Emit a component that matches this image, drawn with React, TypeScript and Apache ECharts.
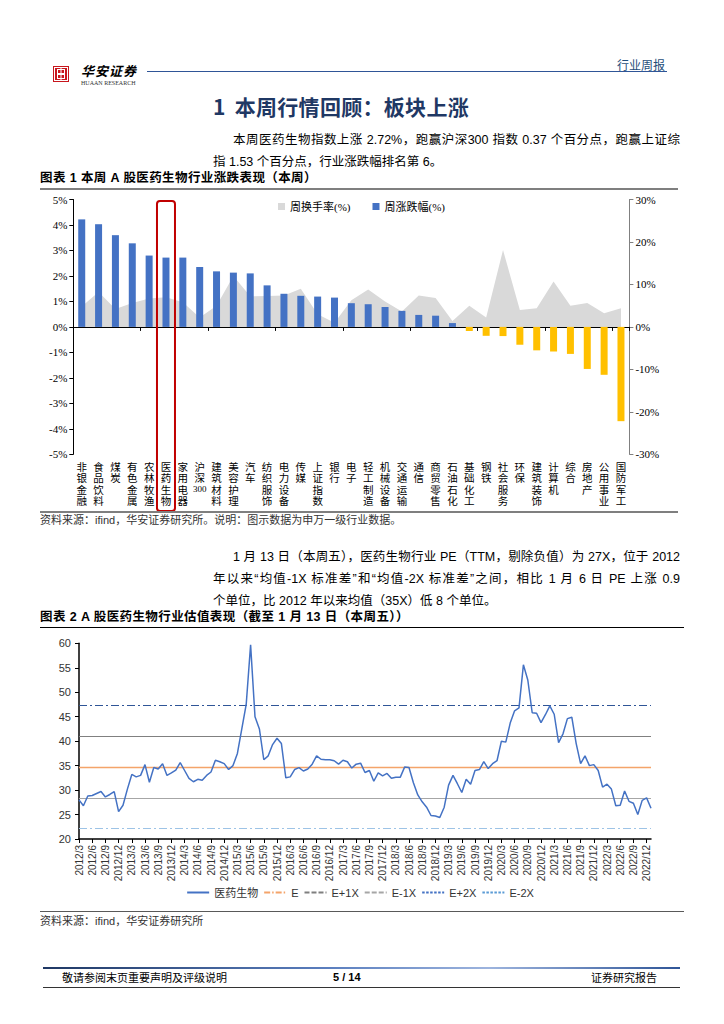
import React, { useEffect, useRef } from 'react';
import * as echarts from 'echarts';

// ---------- Figure 1 data ----------
const industries = ['非银金融', '食品饮料', '煤炭', '有色金属', '农林牧渔', '医药生物', '家用电器', '沪深300', '建筑材料', '美容护理', '汽车', '纺织服饰', '电力设备', '传媒', '上证指数', '银行', '电子', '轻工制造', '机械设备', '交通运输', '通信', '商贸零售', '石油石化', '基础化工', '钢铁', '社会服务', '环保', '建筑装饰', '计算机', '综合', '房地产', '公用事业', '国防军工'];
const weeklyChange = [4.22, 4.03, 3.6, 3.28, 2.8, 2.72, 2.72, 2.35, 2.18, 2.13, 2.1, 1.63, 1.3, 1.22, 1.19, 1.15, 0.93, 0.89, 0.78, 0.63, 0.47, 0.44, 0.15, -0.16, -0.35, -0.36, -0.7, -0.92, -0.97, -1.06, -1.65, -1.88, -3.7];
const weeklyTurnover = [4.8, 8.2, 4.2, 5.6, 6.7, 7.0, 5.8, 2.2, 5.0, 12.0, 7.2, 7.3, 7.4, 9.0, 3.0, 1.0, 6.3, 8.8, 6.0, 3.6, 7.4, 6.8, 1.4, 5.0, 2.2, 18.1, 4.0, 4.4, 10.7, 5.0, 5.6, 3.2, 4.4];
const leftTicks = { min: -5, max: 5, interval: 1 };
const rightTicks = { min: -30, max: 30, interval: 10 };
const highlighted = '医药生物';

// ---------- Figure 2 data ----------
const peStart = { year: 2012, month: 3 };
const peValues = [
  28.0, 26.8, 28.8, 28.9, 29.3, 29.7, 28.6, 29.1, 29.7, 25.6,
  26.9, 30.2, 33.2, 32.7, 33.0, 35.2, 31.6, 34.6, 34.3, 35.4,
  33.0, 33.5, 34.1, 35.6, 34.0, 32.4, 31.7, 32.2, 32.0, 33.0,
  33.7, 36.1, 35.8, 35.4, 34.2, 35.0, 37.5, 42.5, 47.5, 59.7,
  45.0, 42.5, 36.2, 37.0, 39.3, 40.6, 39.5, 32.5, 32.7, 34.2,
  34.6, 33.9, 34.3, 35.3, 37.0, 36.3, 36.2, 36.2, 36.0, 35.3,
  36.1, 35.8, 34.5, 35.3, 35.5, 33.6, 34.0, 31.8, 33.5, 32.9,
  33.4, 32.4, 32.6, 32.6, 34.7, 34.6, 31.5, 29.0, 27.6, 26.5,
  24.8, 24.7, 24.4, 26.5, 31.0, 33.0, 31.3, 29.5, 32.2, 31.2,
  34.0, 34.2, 35.8, 34.4, 35.4, 36.0, 40.0, 39.8, 43.7, 46.2,
  46.8, 55.6, 52.5, 45.8, 45.7, 43.8, 45.4, 47.2, 45.5, 39.7,
  41.5, 44.6, 44.9, 39.5, 35.4, 37.0, 35.0, 35.2, 34.0, 30.6,
  31.2, 30.2, 26.8, 26.9, 29.8, 27.7, 27.3, 25.0, 27.9, 28.4,
  26.3,
];
const bandNames = ['E', 'E+1X', 'E-1X', 'E+2X', 'E-2X'];
const bandValues = [34.7, 41.0, 28.4, 47.3, 22.1];
const peTicks = { min: 20, max: 60, interval: 5 };

const peMonths: string[] = [];
{
  let y = peStart.year;
  let m = peStart.month;
  for (let i = 0; i < peValues.length; i++) {
    peMonths.push(`${y}/${m}`);
    m += 1;
    if (m > 12) { m = 1; y += 1; }
  }
}

const CJK = '"Noto Sans CJK SC", sans-serif';
const SANS = '"Liberation Sans", "Noto Sans CJK SC", sans-serif';
const SERIF = '"Liberation Serif", "Noto Sans CJK SC", serif';

const bandLegendStyles: any[] = [
  { color: '#F4A46A', width: 1.3, type: [6, 2, 1.5, 2] },
  { color: '#7F7F7F', width: 1.3, type: [5, 2] },
  { color: '#A6A6A6', width: 1.3, type: [5, 2] },
  { color: '#4472C4', width: 1.3, type: [2.5, 1.5] },
  { color: '#5B9BD5', width: 1.3, type: [2.5, 1.5] },
];
const bandPlotStyles: any[] = [
  { color: '#F4A46A', width: 1.3, type: 'solid' },
  { color: '#808080', width: 1.2, type: 'solid' },
  { color: '#A6A6A6', width: 1.2, type: 'solid' },
  { color: '#2F5597', width: 1, type: [8, 3, 2, 3] },
  { color: '#9DC3E6', width: 1, type: [8, 3, 2, 3] },
];

function option1(): any {
  return {
    animation: false,
    grid: { left: 33.3, right: 50.6, top: 9.5, bottom: 57.7 },
    legend: {
      left: 238,
      top: 11,
      padding: 0,
      itemWidth: 7,
      itemHeight: 7,
      itemGap: 22,
      textStyle: { fontSize: 11, fontFamily: SERIF, color: '#000' },
      data: [
        { name: '周换手率(%)', icon: 'rect' },
        { name: '周涨跌幅(%)', icon: 'rect' },
      ],
    },
    xAxis: [
      {
        type: 'category',
        data: industries,
        axisLine: { show: false, onZero: false },
        axisTick: { show: false },
        axisLabel: {
          interval: 0,
          margin: 6,
          fontSize: 10.5,
          lineHeight: 11.5,
          fontFamily: CJK,
          color: '#000',
          formatter: (v: string) => {
            const m = v.match(/^(\D+)(\d+)$/);
            if (m) return m[1].split('').join('\n') + '\n{n|' + m[2] + '}';
            return v.split('').join('\n');
          },
          rich: { n: { fontSize: 9, fontFamily: SERIF, lineHeight: 11.5, color: '#000' } },
        },
      },
      {
        type: 'category',
        data: industries,
        position: 'bottom',
        axisLine: { show: true, onZero: true, onZeroAxisIndex: 0, lineStyle: { color: '#000', width: 1 } },
        axisTick: { show: true, length: 4, lineStyle: { color: '#000' } },
        axisLabel: { show: false },
      },
    ],
    yAxis: [
      {
        type: 'value',
        ...leftTicks,
        axisLine: { show: true, lineStyle: { color: '#000', width: 1 } },
        axisTick: { show: true, length: 4, lineStyle: { color: '#000' } },
        splitLine: { show: false },
        axisLabel: { formatter: '{value}%', fontFamily: SERIF, fontSize: 11, color: '#000', margin: 6 },
      },
      {
        type: 'value',
        position: 'right',
        ...rightTicks,
        axisLine: { show: true, lineStyle: { color: '#808080', width: 1 } },
        axisTick: { show: true, length: 4, lineStyle: { color: '#808080' } },
        splitLine: { show: false },
        axisLabel: { formatter: '{value}%', fontFamily: SERIF, fontSize: 11, color: '#000', margin: 6 },
      },
    ],
    series: [
      {
        name: '周换手率(%)',
        type: 'line',
        xAxisIndex: 0,
        yAxisIndex: 1,
        data: weeklyTurnover,
        symbol: 'none',
        lineStyle: { width: 0, color: '#D9D9D9' },
        itemStyle: { color: '#D9D9D9' },
        areaStyle: { color: '#D9D9D9', opacity: 1 },
        z: 1,
      },
      {
        name: '周涨跌幅(%)',
        type: 'bar',
        xAxisIndex: 0,
        yAxisIndex: 0,
        barWidth: 7,
        itemStyle: { color: '#4472C4' },
        data: weeklyChange.map((v) => (v < 0 ? { value: v, itemStyle: { color: '#FFC000' } } : v)),
        z: 2,
      },
    ],
  };
}

function option2(): any {
  const everyQuarter = (i: number) => i % 3 === 0;
  return {
    animation: false,
    grid: { left: 39, right: 29, top: 13.3, bottom: 71 },
    legend: {
      left: 'center',
      top: 257,
      padding: 0,
      itemWidth: 22,
      itemHeight: 8,
      itemGap: 5,
      itemStyle: { opacity: 0 },
      textStyle: { fontSize: 11, fontFamily: SANS, color: '#333' },
      data: ['医药生物', ...bandNames],
    },
    xAxis: {
      type: 'category',
      boundaryGap: false,
      data: peMonths,
      axisLine: { lineStyle: { color: '#000', width: 1.5 } },
      axisTick: { interval: everyQuarter, length: 4, lineStyle: { color: '#000' } },
      axisLabel: { interval: everyQuarter, rotate: 90, fontSize: 10, fontFamily: SANS, color: '#333', margin: 6 },
    },
    yAxis: {
      type: 'value',
      ...peTicks,
      axisLine: { show: true, lineStyle: { color: '#000', width: 1.5 } },
      axisTick: { show: true, length: 4, lineStyle: { color: '#000' } },
      splitLine: { show: false },
      axisLabel: { fontSize: 11, fontFamily: SANS, color: '#333', margin: 8 },
    },
    series: [
      {
        name: '医药生物',
        type: 'line',
        data: peValues,
        symbol: 'none',
        lineStyle: { color: '#4472C4', width: 1.5 },
        itemStyle: { color: '#4472C4' },
        z: 5,
      },
      ...bandNames.map((name, i) => ({
        name,
        type: 'line',
        data: [],
        symbol: 'none',
        lineStyle: bandLegendStyles[i],
        itemStyle: { color: bandLegendStyles[i].color },
        z: 2,
        markLine: {
          silent: true,
          symbol: ['none', 'none'],
          label: { show: false },
          lineStyle: bandPlotStyles[i],
          data: [{ yAxis: bandValues[i] }],
        },
      })),
    ],
  };
}

type TProps = { x: number; y: number; size: number; children: React.ReactNode; style?: React.CSSProperties; w?: number; right?: boolean };
function T({ x, y, size, children, style, w, right }: TProps) {
  const base: React.CSSProperties = {
    position: 'absolute',
    top: y - size * 0.6,
    fontSize: size,
    lineHeight: `${size * 1.2}px`,
    whiteSpace: 'nowrap',
    fontFamily: SANS,
    color: '#000',
  };
  if (right) base.right = 724 - x; else base.left = x;
  if (w) {
    base.width = w;
    base.textAlign = 'justify';
    (base as any).textAlignLast = 'justify';
  }
  return <div style={{ ...base, ...style }}>{children}</div>;
}

function HLine({ x, y, w, h, color, bg }: { x: number; y: number; w: number; h: number; color?: string; bg?: string }) {
  return <div style={{ position: 'absolute', left: x, top: y, width: w, height: h, background: bg || color }} />;
}

export default function App() {
  const c1 = useRef<HTMLDivElement>(null);
  const c2 = useRef<HTMLDivElement>(null);

  useEffect(() => {
    const ch1 = echarts.init(c1.current!, undefined, { renderer: 'svg' });
    ch1.setOption(option1());
    const cx = ch1.convertToPixel({ xAxisIndex: 0 }, highlighted) as number;
    const yTop = ch1.convertToPixel({ yAxisIndex: 0 }, leftTicks.max) as number;
    const h = ch1.getHeight();
    ch1.setOption({
      graphic: [
        {
          type: 'rect',
          z: 100,
          shape: { x: cx - 9, y: yTop + 1.5, width: 18, height: h - 1 - (yTop + 1.5), r: 3 },
          style: { fill: 'none', stroke: '#C00000', lineWidth: 2 },
        },
      ],
    });
    const ch2 = echarts.init(c2.current!, undefined, { renderer: 'svg' });
    ch2.setOption(option2());
    return () => {
      ch1.dispose();
      ch2.dispose();
    };
  }, []);

  const para = 12.5;
  return (
    <div style={{ position: 'absolute', left: 0, top: 0, width: 724, height: 1024, background: '#fff', overflow: 'hidden' }}>
      {/* header */}
      <svg style={{ position: 'absolute', left: 53, top: 66 }} width={16} height={16} viewBox="0 0 16 16">
        <rect x="0" y="0" width="16" height="16" fill="#C8161D" />
        <rect x="1.5" y="1.5" width="13" height="13" fill="none" stroke="#fff" strokeWidth="1" />
        <rect x="4.5" y="3.5" width="7" height="4" fill="none" stroke="#fff" strokeWidth="1" />
        <rect x="4.5" y="8.5" width="7" height="4" fill="none" stroke="#fff" strokeWidth="1" />
        <line x1="8" y1="2" x2="8" y2="14" stroke="#fff" strokeWidth="1" />
      </svg>
      <T x={81} y={71} size={13} style={{ fontFamily: CJK, fontWeight: 700, fontStyle: 'italic', letterSpacing: 1 }}>华安证券</T>
      <T x={81} y={84} size={6} style={{ fontFamily: SERIF, color: '#333' }}>HUAAN RESEARCH</T>
      <HLine x={147} y={71} w={520} h={1} color="#2F5597" />
      <T x={665} y={65} size={12} right style={{ fontFamily: CJK, color: '#1F4E79' }}>行业周报</T>

      <T x={213} y={107} size={21} style={{ fontFamily: CJK, fontWeight: 700, color: '#1F3864', letterSpacing: 0.3 }}>
        <span style={{ marginRight: 9 }}>1</span>本周行情回顾：板块上涨
      </T>

      <T x={233} y={140} size={para} w={447}>本周医药生物指数上涨 2.72%，跑赢沪深300 指数 0.37 个百分点，跑赢上证综</T>
      <T x={213} y={162} size={para}>指 1.53 个百分点，行业涨跌幅排名第 6。</T>

      <T x={40} y={178} size={12.5} style={{ fontWeight: 700, letterSpacing: 0.4 }}>图表 1 本周 A 股医药生物行业涨跌表现（本周）</T>
      <HLine x={40} y={187.5} w={638} h={2} color="#7F7F7F" />
      <div ref={c1} style={{ position: 'absolute', left: 40, top: 190, width: 640, height: 322 }} />
      <HLine x={40} y={511} w={638} h={2} color="#7F7F7F" />
      <T x={40} y={521} size={11} style={{ color: '#333' }}>资料来源：ifind，华安证券研究所。说明：图示数据为申万一级行业数据。</T>

      <T x={233} y={557} size={para} w={447}>1 月 13 日（本周五），医药生物行业 PE（TTM，剔除负值）为 27X，位于 2012</T>
      <T x={213} y={579} size={para} w={467}>年以来“均值-1X 标准差”和“均值-2X 标准差”之间，相比 1 月 6 日 PE 上涨 0.9</T>
      <T x={213} y={601} size={para}>个单位，比 2012 年以来均值（35X）低 8 个单位。</T>

      <T x={40} y={617} size={12.5} style={{ fontWeight: 700, letterSpacing: 0.4 }}>图表 2 A 股医药生物行业估值表现（截至 1 月 13 日（本周五））</T>
      <HLine x={40} y={627} w={644} h={1} color="#000" />
      <div ref={c2} style={{ position: 'absolute', left: 40, top: 630, width: 640, height: 280 }} />
      <HLine x={40} y={910.5} w={644} h={1} color="#595959" />
      <T x={40} y={922} size={11} style={{ color: '#333' }}>资料来源：ifind，华安证券研究所</T>

      {/* footer */}
      <HLine x={43} y={967} w={637} h={2} bg="linear-gradient(to right, #1F3864, #5B7FBF 45%, #9DB4DE 70%, #2F5597)" />
      <T x={62} y={978} size={11} style={{ fontFamily: CJK }}>敬请参阅末页重要声明及评级说明</T>
      <T x={333} y={978} size={11} style={{ fontWeight: 700 }}>5 / 14</T>
      <T x={657} y={978} size={11} right style={{ fontFamily: CJK }}>证券研究报告</T>
      <HLine x={43} y={987} w={637} h={1} color="#333" />
    </div>
  );
}
